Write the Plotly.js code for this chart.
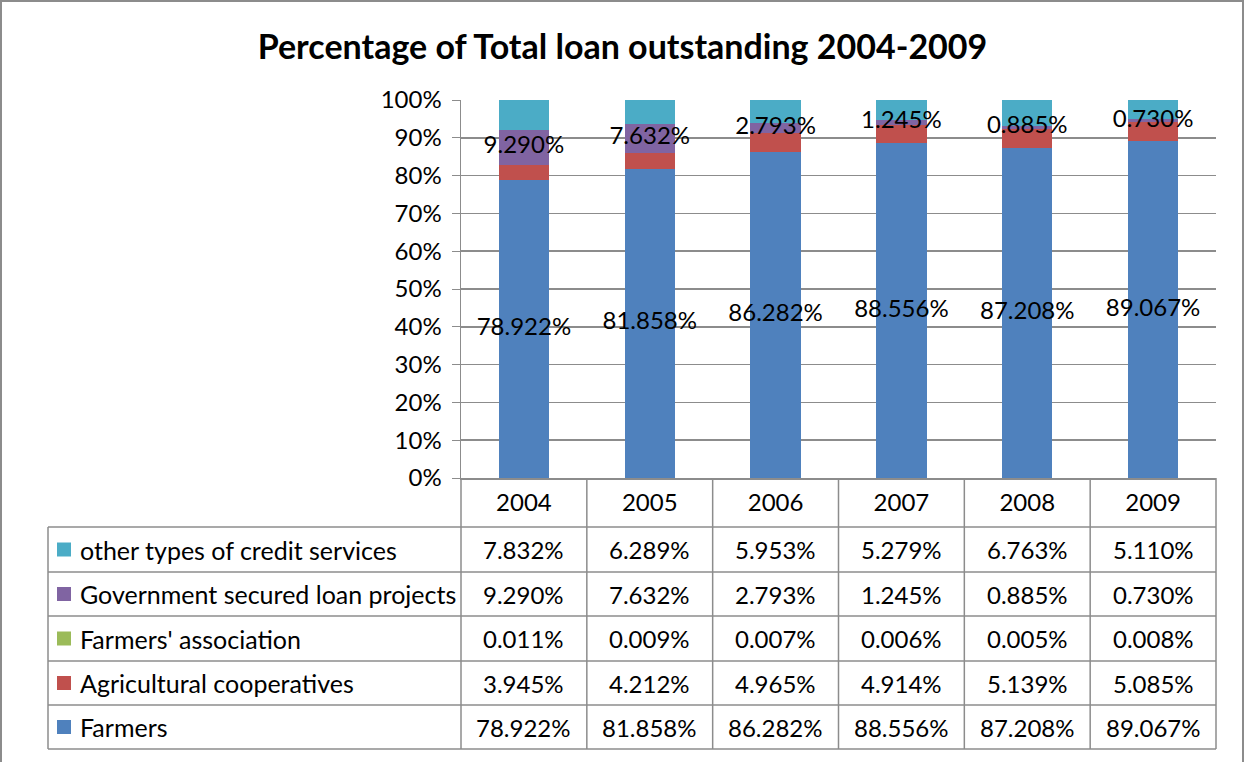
<!DOCTYPE html>
<html>
<head>
<meta charset="utf-8">
<script src="https://cdn.plot.ly/plotly-3.0.1.min.js"></script>
<style>html,body{margin:0;padding:0;background:#fff;}#chart{width:1245px;height:762px;}</style>
</head>
<body>
<div id="chart"></div>
<script>
const years = ['2004', '2005', '2006', '2007', '2008', '2009'];
const seriesNames = ['Farmers', 'Agricultural cooperatives', "Farmers' association", 'Government secured loan projects', 'other types of credit services'];
const farmers = [78.922, 81.858, 86.282, 88.556, 87.208, 89.067];
const agCoop = [3.945, 4.212, 4.965, 4.914, 5.139, 5.085];
const farmersAssoc = [0.011, 0.009, 0.007, 0.006, 0.005, 0.008];
const govLoans = [9.290, 7.632, 2.793, 1.245, 0.885, 0.730];
const otherCredit = [7.832, 6.289, 5.953, 5.279, 6.763, 5.110];
const colors = ['#4F81BD', '#C0504D', '#9BBB59', '#8064A2', '#4BACC6'];
const seriesValues = [farmers, agCoop, farmersAssoc, govLoans, otherCredit];
const labelled = [true, false, false, true, false];

const W = 1245, H = 762;
const L = 461, R = 1216, T = 100, B = 478;
const FONT = 'Lato, "Liberation Sans", sans-serif';
const FS = 24;
const fmt = v => v.toFixed(3) + '%';
const px = x => (x - L) / (R - L);
const py = y => (B - y) / (B - T);

const traces = seriesValues.map((vals, i) => ({
  type: 'bar',
  name: seriesNames[i],
  x: years,
  y: vals,
  marker: {color: colors[i], line: {width: 0}},
  hoverinfo: 'name+y'
}));

// data labels drawn on top of all bars, at the middle of each labelled segment
seriesValues.forEach((vals, i) => {
  if (!labelled[i]) return;
  const mids = vals.map((v, j) => {
    let base = 0;
    for (let k = 0; k < i; k++) base += seriesValues[k][j];
    return base + v / 2;
  });
  traces.push({
    type: 'scatter', mode: 'text', x: years, y: mids,
    text: vals.map(fmt), textposition: 'middle center',
    textfont: {family: FONT, size: FS, color: '#000'},
    cliponaxis: false, hoverinfo: 'skip', showlegend: false
  });
});

// table geometry (pixels)
const rowLines = [527, 572, 616, 661, 705, 749];
const shapes = [];
const lineStyle = {color: '#8c8c8c', width: 1.5};
rowLines.forEach(y => shapes.push({type: 'line', xref: 'paper', yref: 'paper', x0: px(48), x1: px(R), y0: py(y), y1: py(y), line: lineStyle}));
for (let j = 0; j <= years.length; j++) {
  const xb = px(L + j * (R - L) / years.length);
  shapes.push({type: 'line', xref: 'paper', yref: 'paper', x0: xb, x1: xb, y0: py(B), y1: py(749), line: lineStyle});
}
shapes.push({type: 'line', xref: 'paper', yref: 'paper', x0: px(48), x1: px(48), y0: py(527), y1: py(749), line: lineStyle});
shapes.push({type: 'rect', xref: 'paper', yref: 'paper', x0: px(1), x1: px(1243), y0: py(1), y1: py(790), line: {color: '#8c8c8c', width: 2}, fillcolor: 'rgba(0,0,0,0)', layer: 'below'});

const annotations = [];
const order = [4, 3, 2, 1, 0];
order.forEach((si, r) => {
  const yc = (rowLines[r] + rowLines[r + 1]) / 2;
  shapes.push({type: 'rect', xref: 'paper', yref: 'paper', x0: px(57), x1: px(71), y0: py(yc - 7), y1: py(yc + 7), fillcolor: colors[si], line: {width: 0}});
  annotations.push({xref: 'paper', yref: 'paper', x: px(78), y: py(yc), xanchor: 'left', yanchor: 'middle', showarrow: false, text: seriesNames[si], font: {family: FONT, size: FS + 1, color: '#000'}});
  seriesValues[si].forEach((v, j) => {
    annotations.push({xref: 'paper', yref: 'paper', x: (j + 0.5) / years.length, y: py(yc), xanchor: 'center', yanchor: 'middle', showarrow: false, text: fmt(v), font: {family: FONT, size: FS, color: '#000'}});
  });
});

const layout = {
  width: W, height: H, autosize: false,
  margin: {l: L, r: W - R, t: T, b: H - B, pad: 0},
  paper_bgcolor: '#fff', plot_bgcolor: '#fff',
  barmode: 'stack', bargap: 0.6,
  showlegend: false,
  title: {text: 'Percentage of Total loan outstanding 2004-2009', font: {family: FONT, size: 34, color: '#000', weight: 'bold'}, x: 0.5, xref: 'container', y: 1 - 47 / H, yref: 'container', xanchor: 'center', yanchor: 'middle'},
  xaxis: {type: 'category', range: [-0.5, years.length - 0.5], autorange: false, showgrid: false, showline: true, linecolor: '#8c8c8c', linewidth: 1.5, ticks: '', tickfont: {family: FONT, size: FS, color: '#000'}, ticklabelstandoff: 3, zeroline: false, fixedrange: true},
  yaxis: {range: [0, 100], autorange: false, dtick: 10, ticksuffix: '%', showgrid: true, gridcolor: '#8c8c8c', gridwidth: 1.5, showline: true, linecolor: '#8c8c8c', linewidth: 1.5, ticks: 'outside', ticklen: 8, tickcolor: '#8c8c8c', tickfont: {family: FONT, size: FS, color: '#000'}, ticklabelstandoff: 5, zeroline: false, fixedrange: true},
  shapes: shapes,
  annotations: annotations,
  font: {family: FONT}
};

Plotly.newPlot('chart', traces, layout, {displayModeBar: false, staticPlot: true});
</script>
</body>
</html>
